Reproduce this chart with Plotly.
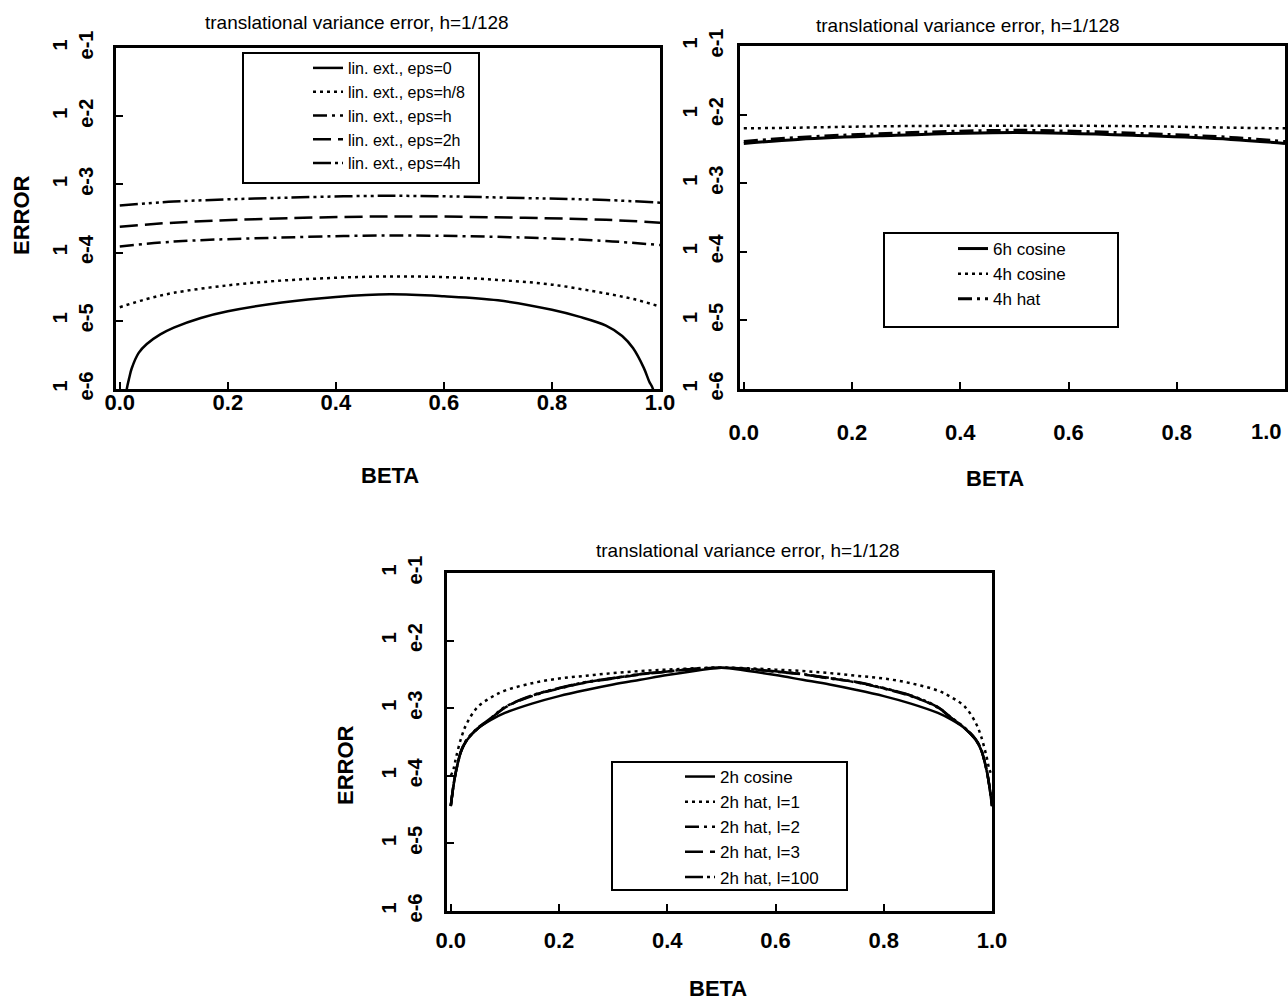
import plotly.graph_objects as go

W, H = 1288, 1000
FONT = "Liberation Sans, Arial, Helvetica, sans-serif"

# ---------------- data ----------------
# top-left panel : linear extension
beta_lin = [0.0, 0.1, 0.25, 0.5, 0.75, 0.9, 1.0]
lin_eps_4h = [4.9e-4, 5.6e-4, 6.2e-4, 6.8e-4, 6.3e-4, 5.9e-4, 5.4e-4]
lin_eps_2h = [2.4e-4, 2.75e-4, 3.09e-4, 3.39e-4, 3.24e-4, 3.02e-4, 2.75e-4]
lin_eps_h = [1.23e-4, 1.45e-4, 1.62e-4, 1.78e-4, 1.66e-4, 1.48e-4, 1.29e-4]

beta_h8 = [0.0, 0.05, 0.1, 0.2, 0.3, 0.4, 0.5, 0.6, 0.7, 0.8, 0.9, 0.95, 1.0]
lin_eps_h8 = [1.58e-5, 2.09e-5, 2.57e-5, 3.31e-5, 3.89e-5, 4.27e-5, 4.47e-5,
              4.37e-5, 3.98e-5, 3.39e-5, 2.51e-5, 2.09e-5, 1.62e-5]

beta_e0 = [0.008, 0.013, 0.018, 0.022, 0.035, 0.05, 0.075, 0.10, 0.15, 0.20,
           0.30, 0.40, 0.50, 0.60, 0.70, 0.80, 0.85, 0.90, 0.93, 0.95, 0.97,
           0.98, 0.987, 0.992]
lin_eps_0 = [4.0e-7, 1.0e-6, 1.51e-6, 2.0e-6, 3.39e-6, 4.57e-6, 6.31e-6,
             7.94e-6, 1.10e-5, 1.38e-5, 1.86e-5, 2.24e-5, 2.45e-5, 2.29e-5,
             2.0e-5, 1.45e-5, 1.15e-5, 8.5e-6, 6.0e-6, 3.98e-6, 2.04e-6,
             1.29e-6, 1.0e-6, 4.0e-7]

# top-right panel : wider kernels
beta_tr = [0.0, 0.1, 0.25, 0.5, 0.75, 0.9, 1.0]
cos_6h = [3.8e-3, 4.35e-3, 4.9e-3, 5.5e-3, 4.9e-3, 4.35e-3, 3.8e-3]
cos_4h = [6.3e-3, 6.45e-3, 6.75e-3, 6.9e-3, 6.75e-3, 6.45e-3, 6.3e-3]
hat_4h = [4.05e-3, 4.65e-3, 5.25e-3, 5.9e-3, 5.25e-3, 4.65e-3, 4.05e-3]

# bottom panel : 2h kernels
beta_bot = [0.0, 0.005, 0.01, 0.02, 0.03, 0.05, 0.075, 0.1, 0.15, 0.2, 0.25,
            0.3, 0.35, 0.4, 0.45, 0.5, 0.55, 0.6, 0.65, 0.7, 0.75, 0.8, 0.85,
            0.9, 0.925, 0.95, 0.97, 0.98, 0.99, 0.995, 1.0]
cos_2h = [3.55e-5, 7.08e-5, 1.20e-4, 2.40e-4, 3.39e-4, 5.01e-4, 6.76e-4,
          8.51e-4, 1.17e-3, 1.51e-3, 1.86e-3, 2.24e-3, 2.63e-3, 3.09e-3,
          3.55e-3, 3.98e-3, 3.55e-3, 3.09e-3, 2.63e-3, 2.24e-3, 1.86e-3,
          1.51e-3, 1.17e-3, 8.51e-4, 6.76e-4, 5.01e-4, 3.39e-4, 2.40e-4,
          1.20e-4, 7.08e-5, 3.55e-5]
hat_2h_l1 = [1.0e-4, 1.26e-4, 1.91e-4, 3.8e-4, 6.03e-4, 1.05e-3, 1.45e-3,
             1.82e-3, 2.34e-3, 2.75e-3, 3.02e-3, 3.31e-3, 3.55e-3, 3.72e-3,
             3.89e-3, 3.98e-3, 3.89e-3, 3.72e-3, 3.55e-3, 3.31e-3, 3.02e-3,
             2.75e-3, 2.34e-3, 1.82e-3, 1.45e-3, 1.05e-3, 6.03e-4, 3.8e-4,
             1.91e-4, 1.26e-4, 1.0e-4]
hat_2h_l2 = [3.55e-5, 7.08e-5, 1.20e-4, 2.40e-4, 3.39e-4, 5.01e-4, 7.08e-4,
             1.02e-3, 1.51e-3, 1.95e-3, 2.40e-3, 2.75e-3, 3.16e-3, 3.47e-3,
             3.80e-3, 3.98e-3, 3.80e-3, 3.47e-3, 3.16e-3, 2.75e-3, 2.40e-3,
             1.95e-3, 1.51e-3, 1.02e-3, 7.08e-4, 5.01e-4, 3.39e-4, 2.40e-4,
             1.20e-4, 7.08e-5, 3.55e-5]
hat_2h_l3 = [3.6e-5, 7.2e-5, 1.22e-4, 2.43e-4, 3.43e-4, 5.07e-4, 7.16e-4,
             1.03e-3, 1.53e-3, 1.97e-3, 2.42e-3, 2.78e-3, 3.18e-3, 3.49e-3,
             3.81e-3, 3.98e-3, 3.81e-3, 3.49e-3, 3.18e-3, 2.78e-3, 2.42e-3,
             1.97e-3, 1.53e-3, 1.03e-3, 7.16e-4, 5.07e-4, 3.43e-4, 2.43e-4,
             1.22e-4, 7.2e-5, 3.6e-5]
hat_2h_l100 = [3.65e-5, 7.3e-5, 1.24e-4, 2.46e-4, 3.47e-4, 5.12e-4, 7.24e-4,
               1.04e-3, 1.55e-3, 1.99e-3, 2.44e-3, 2.80e-3, 3.20e-3, 3.51e-3,
               3.82e-3, 3.98e-3, 3.82e-3, 3.51e-3, 3.20e-3, 2.80e-3, 2.44e-3,
               1.99e-3, 1.55e-3, 1.04e-3, 7.24e-4, 5.12e-4, 3.47e-4, 2.46e-4,
               1.24e-4, 7.3e-5, 3.65e-5]

# ticks
y_tick_vals = [1e-1, 1e-2, 1e-3, 1e-4, 1e-5, 1e-6]
y_tick_text = ["1<br>e-1", "1<br>e-2", "1<br>e-3", "1<br>e-4", "1<br>e-5", "1<br>e-6"]
x_tick_vals = [0.0, 0.2, 0.4, 0.6, 0.8, 1.0]
x_tick_text = ["0.0", "0.2", "0.4", "0.6", "0.8", "1.0"]
# top-right panel: last label is drawn separately so it stays inside the page
x_tick_text_tr = ["0.0", "0.2", "0.4", "0.6", "0.8", ""]

TITLE = "translational variance error, h=1/128"

# ---------------- styles ----------------
DOT = "3px,4px"
DASHDOT = "14px,5px,3px,5px"
LONGDASH = "18px,7px"
DASHDOTDOT = "18px,4px,3px,4px,3px,4px,3px,4px"
LW = 2.5


def fx(px):
    return px / W


def fy(py):
    return 1 - py / H


fig = go.Figure()


def add(x, y, name, dash, xa, ya, legend, width=LW):
    fig.add_trace(go.Scatter(
        x=x, y=y, name=name, mode="lines", xaxis=xa, yaxis=ya, legend=legend,
        line=dict(color="black", width=width, dash=dash, shape="spline", smoothing=1.0),
    ))


# top-left
add(beta_e0, lin_eps_0, "lin. ext., eps=0", "solid", "x", "y", "legend")
add(beta_h8, lin_eps_h8, "lin. ext., eps=h/8", DOT, "x", "y", "legend")
add(beta_lin, lin_eps_h, "lin. ext., eps=h", DASHDOT, "x", "y", "legend")
add(beta_lin, lin_eps_2h, "lin. ext., eps=2h", LONGDASH, "x", "y", "legend")
add(beta_lin, lin_eps_4h, "lin. ext., eps=4h", DASHDOTDOT, "x", "y", "legend")

# top-right
add(beta_tr, cos_6h, "6h cosine", "solid", "x2", "y2", "legend2", 3)
add(beta_tr, cos_4h, "4h cosine", DOT, "x2", "y2", "legend2")
add(beta_tr, hat_4h, "4h hat", DASHDOT, "x2", "y2", "legend2", 3)

# bottom
add(beta_bot, cos_2h, "2h cosine", "solid", "x3", "y3", "legend3")
add(beta_bot, hat_2h_l1, "2h hat, l=1", DOT, "x3", "y3", "legend3")
add(beta_bot, hat_2h_l2, "2h hat, l=2", DASHDOT, "x3", "y3", "legend3")
add(beta_bot, hat_2h_l3, "2h hat, l=3", LONGDASH, "x3", "y3", "legend3")
add(beta_bot, hat_2h_l100, "2h hat, l=100", DASHDOTDOT, "x3", "y3", "legend3")

# panel boxes in page pixels: (left, right, top, bottom)
panels = {
    "1": (116, 660, 48, 389),
    "2": (740, 1285, 46, 389),
    "3": (447, 992, 573, 911),
}
x_standoff = {"1": -8, "2": 22, "3": 8}
y_standoff = {"1": 12, "2": 6, "3": 14}
x_texts = {"1": x_tick_text, "2": x_tick_text_tr, "3": x_tick_text}

layout_axes = {}
for k, (l, r, t, b) in panels.items():
    xs = "xaxis" if k == "1" else f"xaxis{k}"
    ys = "yaxis" if k == "1" else f"yaxis{k}"
    anchor_y = "y" if k == "1" else f"y{k}"
    anchor_x = "x" if k == "1" else f"x{k}"
    layout_axes[xs] = dict(
        domain=[fx(l), fx(r)], anchor=anchor_y, range=[-0.007, 1.0],
        tickvals=x_tick_vals, ticktext=x_texts[k], ticks="inside", ticklen=7,
        tickwidth=2, tickcolor="black", showline=True, mirror=True,
        linecolor="black", linewidth=3, showgrid=False, zeroline=False,
        tickfont=dict(family=FONT, size=22, color="black", weight="bold"),
        ticklabelstandoff=x_standoff[k], automargin=False,
        ticklabeloverflow="allow",
    )
    layout_axes[ys] = dict(
        domain=[fy(b), fy(t)], anchor=anchor_x, type="log", range=[-6, -1],
        tickvals=y_tick_vals, ticktext=y_tick_text, ticks="inside", ticklen=7,
        tickwidth=2, tickcolor="black", showline=True, mirror=True,
        linecolor="black", linewidth=3, showgrid=False, zeroline=False,
        tickangle=-90,
        tickfont=dict(family=FONT, size=20, color="black", weight="bold"),
        ticklabelstandoff=y_standoff[k], automargin=False,
        ticklabeloverflow="allow",
    )

legend_common = dict(xanchor="left", yanchor="top", bgcolor="rgba(0,0,0,0)",
                     borderwidth=0, orientation="v")

annotations = []


def ann(text, px, py, size, bold=False, angle=0):
    annotations.append(dict(
        text=f"<b>{text}</b>" if bold else text, x=fx(px), y=fy(py),
        xref="paper", yref="paper", showarrow=False, textangle=angle,
        xanchor="center", yanchor="middle",
        font=dict(family=FONT, size=size, color="black"),
    ))


ann(TITLE, 357, 22, 19)
ann(TITLE, 968, 25, 19)
ann(TITLE, 748, 550, 19)
ann("BETA", 390, 475, 22, bold=True)
ann("BETA", 995, 478, 22, bold=True)
ann("BETA", 718, 988, 22, bold=True)
ann("ERROR", 22, 215, 22, bold=True, angle=-90)
ann("ERROR", 345, 765, 22, bold=True, angle=-90)

# last tick label of the top-right axis, tied to the axis value 1.0
annotations.append(dict(
    text="<b>" + x_tick_text[-1] + "</b>", x=x_tick_vals[-1], xref="x2",
    y=fy(432), yref="paper", xshift=-19, showarrow=False,
    xanchor="center", yanchor="middle",
    font=dict(family=FONT, size=22, color="black"),
))

shapes = []
for (l, t, r, b) in [(243, 53, 479, 183), (884, 233, 1118, 327), (612, 762, 847, 890)]:
    shapes.append(dict(type="rect", xref="paper", yref="paper",
                       x0=fx(l), x1=fx(r), y0=fy(b), y1=fy(t),
                       line=dict(color="black", width=2), fillcolor="rgba(0,0,0,0)",
                       layer="above"))

fig.update_layout(
    width=W, height=H, margin=dict(l=0, r=0, t=0, b=0, autoexpand=False),
    paper_bgcolor="white", plot_bgcolor="white",
    showlegend=True,
    legend=dict(x=fx(308), y=fy(51), font=dict(family=FONT, size=16, color="black"),
                **legend_common),
    legend2=dict(x=fx(953), y=fy(231), font=dict(family=FONT, size=17, color="black"),
                 **legend_common),
    legend3=dict(x=fx(680), y=fy(759), font=dict(family=FONT, size=17, color="black"),
                 **legend_common),
    annotations=annotations, shapes=shapes,
    **layout_axes,
)

fig.write_html("out.html")
